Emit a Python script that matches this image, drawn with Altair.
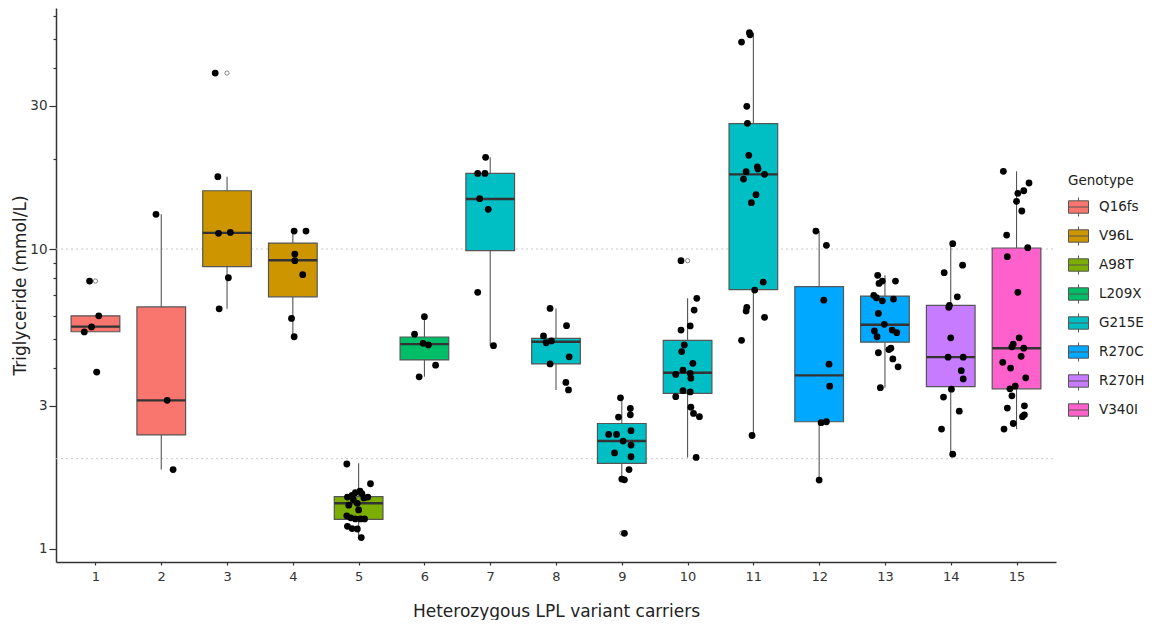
import altair as alt
import pandas as pd

# ---------------- data ----------------
groups = list(range(1, 16))
group_genotype = ["Q16fs", "Q16fs", "V96L", "V96L", "A98T", "L209X", "G215E", "G215E",
                  "G215E", "G215E", "G215E", "R270C", "R270C", "R270H", "V340I"]
genotype_order = ["Q16fs", "V96L", "A98T", "L209X", "G215E", "R270C", "R270H", "V340I"]
genotype_colors = ["#F8766D", "#CD9600", "#7CAE00", "#00BE67", "#00BFC4", "#00A9FF", "#C77CFF", "#FF61CC"]

# box statistics (mmol/L)
whisker_low = [5.29, 1.84, 6.32, 5.10, 1.09, 3.75, 4.76, 3.39, 1.71, 2.02, 2.39, 1.70, 3.45, 2.07, 2.51]
quartile1 = [5.30, 2.40, 8.73, 6.93, 1.256, 4.27, 9.87, 4.14, 1.93, 3.30, 7.32, 2.656, 4.89, 3.48, 3.42]
medians = [5.51, 3.13, 11.32, 9.17, 1.42, 4.82, 14.68, 4.91, 2.29, 3.87, 17.74, 3.79, 5.59, 4.36, 4.67]
quartile3 = [5.99, 6.41, 15.64, 10.47, 1.494, 5.09, 17.87, 5.04, 2.62, 4.96, 26.17, 7.49, 6.97, 6.49, 10.08]
whisker_high = [5.99, 13.05, 17.42, 11.48, 1.93, 5.95, 20.21, 6.34, 3.19, 6.85, 52.6, 11.48, 8.17, 10.42, 18.16]

# outliers (drawn as small open circles)
outlier_group = [1, 1, 3, 9, 10]
outlier_value = [7.82, 3.89, 38.6, 1.13, 9.14]

# individual triglyceride values per carrier group
tg_values = {
    1: [7.82, 5.99, 5.50, 5.29, 3.89],
    2: [13.05, 3.13, 1.84],
    3: [38.6, 17.42, 11.28, 11.36, 8.02, 6.32],
    4: [11.48, 11.48, 9.62, 9.14, 8.21, 5.87, 5.10],
    5: [1.92, 1.65, 1.56, 1.54, 1.53, 1.51, 1.49, 1.49, 1.48, 1.46, 1.42, 1.40, 1.35,
        1.29, 1.27, 1.26, 1.26, 1.26, 1.19, 1.17, 1.166, 1.092],
    6: [5.95, 5.20, 4.85, 4.79, 4.10, 3.75],
    7: [20.21, 17.87, 17.87, 14.72, 13.56, 7.17, 4.76],
    8: [6.34, 5.55, 5.13, 4.94, 4.87, 4.37, 4.14, 3.59, 3.39],
    9: [3.19, 2.94, 2.80, 2.754, 2.48, 2.41, 2.41, 2.29, 2.22, 2.09, 2.03, 1.84, 1.71, 1.70, 1.128],
    10: [9.14, 6.85, 6.26, 5.54, 5.37, 4.79, 4.55, 4.16, 3.95, 3.82, 3.85, 3.71, 3.37, 3.34,
         3.22, 2.97, 2.83, 2.76, 2.02],
    11: [52.6, 51.8, 48.98, 29.9, 26.24, 20.52, 18.80, 18.48, 18.10, 17.74, 17.11, 15.17,
         14.27, 7.76, 7.30, 6.39, 6.21, 5.92, 4.96, 2.39],
    12: [11.48, 10.29, 6.75, 4.13, 3.49, 2.636, 2.656, 1.698],
    13: [8.17, 7.82, 7.68, 7.82, 7.01, 6.88, 6.72, 6.81, 6.10, 5.61, 5.33, 5.37, 5.26, 5.10,
         4.51, 4.67, 4.62, 4.30, 4.05, 3.45],
    14: [10.42, 8.83, 8.34, 6.93, 6.49, 6.39, 5.06, 4.36, 4.36, 3.93, 3.69, 3.41, 3.21, 2.88,
         2.51, 2.07],
    15: [18.16, 16.60, 15.64, 15.34, 14.42, 13.39, 11.13, 10.10, 9.43, 7.17, 5.06, 4.82, 4.72,
         4.67, 4.39, 4.19, 4.01, 3.72, 3.42, 3.49, 3.24, 2.95, 3.00, 2.76, 2.80, 2.62, 2.51],
}
# horizontal jitter of each point (fraction of a category)
tg_jitter = {
    1: [-0.09, 0.05, -0.06, -0.17, 0.02],
    2: [-0.08, 0.09, 0.18],
    3: [-0.18, -0.14, -0.13, 0.05, 0.02, -0.12],
    4: [0.02, 0.20, 0.03, 0.03, 0.15, -0.02, 0.02],
    5: [-0.18, 0.18, 0.02, -0.05, 0.05, -0.10, -0.17, 0.14, 0.08, -0.08, -0.02, -0.15, 0.0,
        -0.18, -0.12, -0.05, 0.03, 0.09, -0.17, -0.10, -0.02, 0.04],
    6: [0.0, -0.15, -0.02, 0.06, 0.17, -0.08],
    7: [-0.07, -0.19, -0.08, -0.16, -0.03, -0.19, 0.05],
    8: [-0.09, 0.16, -0.19, -0.07, -0.15, 0.20, -0.09, 0.15, 0.19],
    9: [-0.02, 0.13, 0.13, -0.05, 0.14, -0.20, -0.08, 0.02, 0.14, -0.11, 0.14, 0.11, 0.0, 0.04, 0.04],
    10: [-0.10, 0.14, 0.10, 0.04, -0.10, -0.05, -0.09, 0.08, -0.07, -0.18, 0.04, 0.05, -0.07,
         0.04, -0.18, 0.05, 0.09, 0.18, 0.13],
    11: [-0.06, -0.05, -0.18, -0.10, -0.09, -0.07, 0.06, 0.07, -0.11, 0.17, -0.15, 0.04, -0.03,
         0.15, 0.02, -0.10, -0.11, 0.17, -0.18, -0.02],
    12: [-0.05, 0.11, 0.07, 0.15, 0.16, 0.03, 0.11, 0.0],
    13: [-0.11, -0.04, -0.09, 0.16, -0.17, -0.13, -0.04, 0.13, -0.10, -0.01, -0.16, 0.11, 0.18,
         -0.12, -0.10, 0.09, 0.06, 0.12, 0.20, -0.07],
    14: [0.03, 0.18, -0.10, 0.10, -0.02, -0.03, 0.0, -0.04, 0.19, 0.16, 0.19, 0.01, -0.11, 0.13,
         -0.14, 0.03],
    15: [-0.20, 0.19, 0.11, 0.02, 0.0, 0.08, -0.15, 0.17, -0.14, 0.02, 0.04, -0.05, -0.07, 0.11,
         0.07, -0.21, -0.09, 0.14, -0.10, -0.02, -0.07, -0.14, 0.12, 0.09, 0.12, -0.05, -0.19],
}
reference_levels = [2, 10]
y_tick_values = [1, 3, 4, 5, 6, 7, 8, 9, 10, 20, 30, 40, 50, 60]
y_labelled = [1, 3, 10, 30]

# ---------------- tables ----------------
boxes = pd.DataFrame({
    "group": groups, "Genotype": group_genotype,
    "lo": whisker_low, "q1": quartile1, "med": medians, "q3": quartile3, "hi": whisker_high,
})
pts_rows = []
for g in groups:
    for v, j in zip(tg_values[g], tg_jitter[g]):
        pts_rows.append({"group": g, "tg": v, "jit": j})
points = pd.DataFrame(pts_rows)
outliers = pd.DataFrame({"group": outlier_group, "tg": outlier_value})
refs = pd.DataFrame({"level": reference_levels})

# ---------------- scales / axes ----------------
FONT = "DejaVu Sans"
x_scale = alt.Scale(domain=[0.4, 15.6], nice=False, zero=False)
y_scale = alt.Scale(type="log", domain=[0.905, 63.6], nice=False)

lab_test = "indexof([" + ",".join(str(v) for v in y_labelled) + "], datum.value) >= 0"
x_axis = alt.Axis(values=groups, title="Heterozygous LPL variant carriers", grid=False,
                  tickSize=3, labelFontSize=13, labelPadding=5, titleFontSize=17,
                  titlePadding=20, titleFontWeight="normal", format="d")
y_axis = alt.Axis(values=y_tick_values, title="Triglyceride (mmol/L)", grid=False,
                  labelExpr=f"{lab_test} ? datum.value : ''",
                  tickSize={"condition": {"test": lab_test, "value": 7}, "value": 3},
                  labelFontSize=13.5, labelPadding=2, titleFontSize=17, titlePadding=0,
                  titleFontWeight="normal")

base_x = alt.X("xc:Q", scale=x_scale, axis=x_axis)

ref_layer = alt.Chart(refs).mark_rule(color="#c8c8c8", strokeDash=[2, 3], strokeWidth=1).encode(
    y=alt.Y("level:Q", scale=y_scale, axis=y_axis),
    x=alt.value(0), x2=alt.value(1000),
)

whisk_low_layer = alt.Chart(boxes).transform_calculate(xc="datum.group").mark_rule(
    color="#555", strokeWidth=1.1).encode(
    x=base_x, y=alt.Y("lo:Q", scale=y_scale, axis=y_axis), y2="q1:Q")
whisk_high_layer = alt.Chart(boxes).transform_calculate(xc="datum.group").mark_rule(
    color="#555", strokeWidth=1.1).encode(
    x=base_x, y=alt.Y("q3:Q", scale=y_scale, axis=y_axis), y2="hi:Q")

legend = alt.Legend(
    title="Genotype", orient="none", legendX=1012, legendY=166,
    symbolType="M-1,-0.62H1V0.62H-1Z M-1,0H1 M0,-0.62V-0.95 M0,0.62V0.95",
    symbolSize=400, symbolStrokeColor="#555", symbolStrokeWidth=1, symbolOpacity=1,
    labelFontSize=13.5, titleFontSize=13.5, titleFontWeight="normal", titlePadding=9,
    rowPadding=6, labelOffset=10, labelColor="#222", titleColor="#222",
)
box_layer = alt.Chart(boxes).transform_calculate(
    xa="datum.group - 0.37", xb="datum.group + 0.37").mark_rect(
    stroke="#555", strokeWidth=1.2, opacity=1).encode(
    x=alt.X("xa:Q", scale=x_scale, axis=x_axis), x2="xb:Q",
    y=alt.Y("q1:Q", scale=y_scale, axis=y_axis), y2="q3:Q",
    fill=alt.Fill("Genotype:N", scale=alt.Scale(domain=genotype_order, range=genotype_colors),
                  legend=legend),
)
median_layer = alt.Chart(boxes).transform_calculate(
    xa="datum.group - 0.37", xb="datum.group + 0.37").mark_rule(
    color="#333", strokeWidth=2.4).encode(
    x=alt.X("xa:Q", scale=x_scale, axis=x_axis), x2="xb:Q",
    y=alt.Y("med:Q", scale=y_scale, axis=y_axis),
)
outlier_layer = alt.Chart(outliers).transform_calculate(xc="datum.group").mark_point(
    filled=False, color="#555", size=18, strokeWidth=0.7, opacity=1).encode(
    x=base_x, y=alt.Y("tg:Q", scale=y_scale, axis=y_axis))
point_layer = alt.Chart(points).transform_calculate(xc="datum.group + datum.jit").mark_circle(
    color="black", size=46, opacity=1).encode(
    x=base_x, y=alt.Y("tg:Q", scale=y_scale, axis=y_axis))

chart = alt.layer(
    ref_layer, whisk_low_layer, whisk_high_layer, box_layer, median_layer, outlier_layer, point_layer
).properties(
    width=1000, height=554,
    autosize=alt.AutoSizeParams(type="none"),
    padding={"left": 48, "top": 0, "right": 90, "bottom": 58},
).configure_view(stroke=None).configure_axis(
    domainColor="#333", domainWidth=1.5, tickColor="#333", tickWidth=1.2,
    labelColor="#333", titleColor="#222", labelFont=FONT, titleFont=FONT,
).configure_legend(labelFont=FONT, titleFont=FONT)

chart.save("out.html", embed_options={"renderer": "svg", "actions": False})
